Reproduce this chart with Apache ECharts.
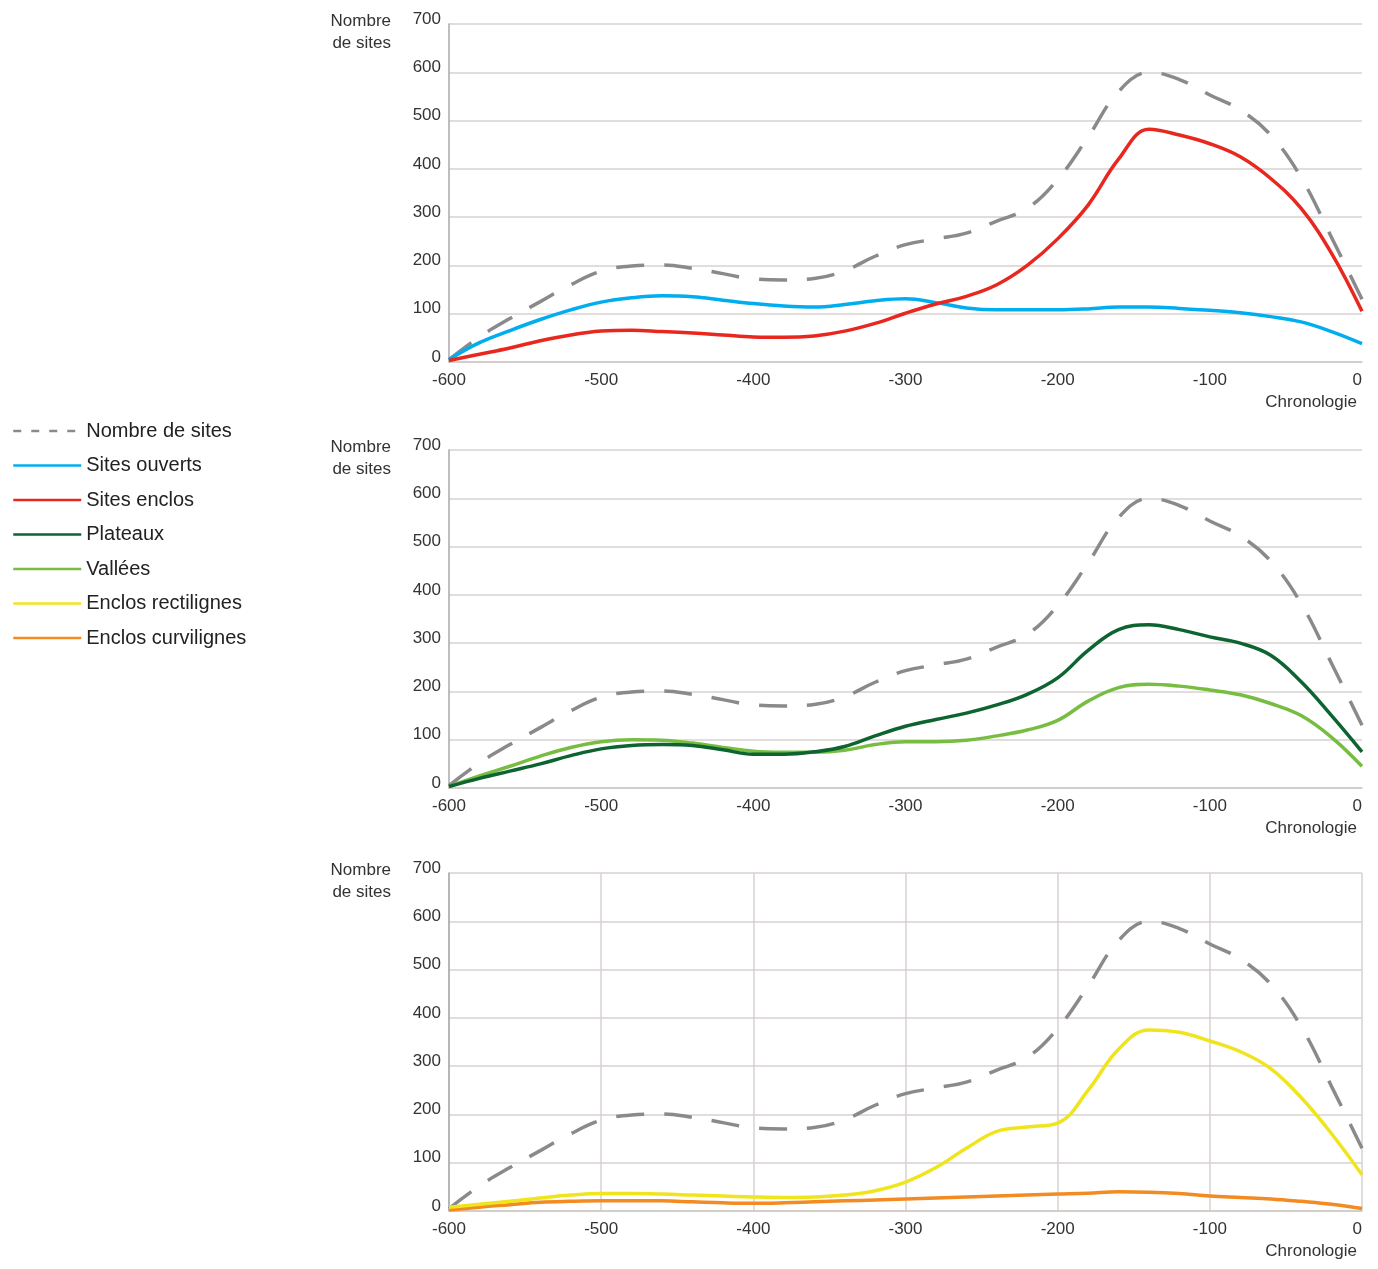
<!DOCTYPE html>
<html lang="fr">
<head>
    <meta charset="UTF-8">
    <title>Nombre de sites - chronologie</title>
    <script src="https://cdn.jsdelivr.net/npm/echarts@6/dist/echarts.min.js"></script>
    <style>
        html, body { margin: 0; padding: 0; background: #fff; }
        #chart { width: 1378px; height: 1269px; }
    </style>
</head>
<body>
    <div id="chart"></div>
    <script>
        // chronologie (années)
        var years = [-600, -580, -560, -540, -520, -500, -480, -460, -440, -420, -400,
                     -380, -360, -340, -320, -300, -280, -260, -240, -220, -200,
                     -180, -160, -140, -120, -100, -80, -60, -40, -20, 0];

        var nombreSites = [5, 52, 90, 125, 160, 188, 199, 201, 194, 183, 172,
                           170, 173, 189, 219, 243, 255, 267, 292, 318, 378,
                           466, 560, 600, 585, 553, 522, 470, 382, 258, 130];
        var sitesOuverts = [5, 40, 65, 88, 108, 124, 133, 137, 135, 128, 121,
                            116, 114, 119, 127, 131, 123, 112, 108, 108, 108,
                            110, 114, 114, 111, 107, 102, 94, 83, 63, 38];
        var sitesEnclos = [3, 16, 29, 44, 56, 64, 66, 63, 60, 56, 52,
                           51, 54, 64, 80, 101, 120, 136, 160, 200, 255,
                           325, 420, 482, 470, 452, 425, 380, 318, 225, 105];
        var plateaux = [3, 20, 35, 50, 67, 81, 88, 90, 88, 79, 70,
                        70, 75, 86, 108, 128, 142, 155, 172, 194, 228,
                        285, 328, 338, 328, 313, 300, 275, 220, 150, 75];
        var vallees = [3, 25, 45, 66, 84, 96, 100, 99, 93, 84, 76,
                       74, 74, 78, 90, 96, 96, 99, 108, 120, 140,
                       180, 208, 215, 211, 203, 193, 175, 150, 105, 45];
        var enclosRectilignes = [8, 14, 20, 27, 33, 36, 36, 35, 33, 31, 29,
                                 28, 29, 33, 42, 60, 90, 130, 165, 174, 182,
                                 250, 335, 375, 370, 352, 330, 295, 235, 160, 75];
        var enclosCurvilignes = [2, 8, 13, 18, 20, 21, 21, 21, 19, 17, 16,
                                 17, 19, 21, 23, 25, 27, 29, 31, 33, 35,
                                 37, 40, 39, 36, 31, 28, 25, 20, 14, 5];

        var legendNames = ['Nombre de sites', 'Sites ouverts', 'Sites enclos', 'Plateaux',
                           'Vallées', 'Enclos rectilignes', 'Enclos curvilignes'];

        var colors = {
            'Nombre de sites': '#8a8a8c',
            'Sites ouverts': '#00aeef',
            'Sites enclos': '#e8271f',
            'Plateaux': '#0d6430',
            'Vallées': '#77bd42',
            'Enclos rectilignes': '#f0e41c',
            'Enclos curvilignes': '#f28c22'
        };

        var font = 'Liberation Sans, Arial, Helvetica, sans-serif';

        function pairs(vals) {
            return years.map(function (y, i) { return [y, vals[i]]; });
        }

        var gridTops = [24, 450, 873];
        var grids = gridTops.map(function (t) {
            return { left: 449, right: 16, top: t, height: 338, outerBoundsMode: 'none' };
        });

        var xAxes = gridTops.map(function (t, i) {
            return {
                type: 'value',
                gridIndex: i,
                min: -600,
                max: 0,
                interval: 100,
                name: 'Chronologie',
                nameLocation: 'end',
                nameGap: -5,
                nameMoveOverlap: false,
                nameTextStyle: {
                    fontFamily: font, fontSize: 17, color: '#333',
                    align: 'right', verticalAlign: 'top', padding: [32, 0, 0, 0]
                },
                axisLine: { show: true, onZero: false, lineStyle: { color: '#cfc9c6', width: 1.5 } },
                axisTick: { show: false },
                axisLabel: {
                    fontFamily: font, fontSize: 17, color: '#333', margin: 10,
                    alignMaxLabel: 'right'
                },
                splitLine: { show: i === 2, lineStyle: { color: '#d6d2d0', width: 1.5 } }
            };
        });

        var yAxes = gridTops.map(function (t, i) {
            return {
                type: 'value',
                gridIndex: i,
                position: 'left',
                min: 0,
                max: 700,
                interval: 100,
                name: 'Nombre\nde sites',
                nameLocation: 'end',
                nameGap: 14,
                nameMoveOverlap: false,
                nameTextStyle: {
                    fontFamily: font, fontSize: 17, color: '#333', lineHeight: 22,
                    align: 'right', verticalAlign: 'top', padding: [0, 58, 0, 0]
                },
                axisLine: { show: true, onZero: false, lineStyle: { color: '#a8a8a8', width: 1.5 } },
                axisTick: { show: false },
                axisLabel: {
                    fontFamily: font, fontSize: 17, color: '#333', margin: 8,
                    verticalAlign: 'bottom', lineHeight: 10
                },
                splitLine: { show: true, lineStyle: { color: '#d8d2cf', width: 1.5 } }
            };
        });

        function lineSeries(name, vals, idx) {
            var dashed = name === 'Nombre de sites';
            return {
                name: name,
                type: 'line',
                xAxisIndex: idx,
                yAxisIndex: idx,
                data: pairs(vals),
                smooth: 0.4,
                symbol: 'none',
                silent: true,
                z: dashed ? 2 : 3,
                lineStyle: {
                    color: colors[name],
                    width: 3.5,
                    type: dashed ? [28, 20] : 'solid',
                    cap: 'butt'
                },
                itemStyle: { color: colors[name] }
            };
        }

        var series = [
            lineSeries('Nombre de sites', nombreSites, 0),
            lineSeries('Sites ouverts', sitesOuverts, 0),
            lineSeries('Sites enclos', sitesEnclos, 0),
            lineSeries('Nombre de sites', nombreSites, 1),
            lineSeries('Vallées', vallees, 1),
            lineSeries('Plateaux', plateaux, 1),
            lineSeries('Nombre de sites', nombreSites, 2),
            lineSeries('Enclos curvilignes', enclosCurvilignes, 2),
            lineSeries('Enclos rectilignes', enclosRectilignes, 2)
        ];

        var chart = echarts.init(document.getElementById('chart'), null, { renderer: 'canvas' });

        chart.setOption({
            backgroundColor: '#ffffff',
            animation: false,
            legend: {
                orient: 'vertical',
                left: 7,
                top: 416,
                itemWidth: 68,
                itemHeight: 14,
                itemGap: 14.5,
                selectedMode: false,
                textStyle: { fontFamily: font, fontSize: 20, color: '#222', lineHeight: 20 },
                itemStyle: { opacity: 0 },
                lineStyle: { width: 2.5 },
                data: legendNames.map(function (n) {
                    var item = { name: n };
                    if (n === 'Nombre de sites') {
                        item.lineStyle = { type: [8, 10], width: 2.5 };
                    }
                    return item;
                })
            },
            grid: grids,
            xAxis: xAxes,
            yAxis: yAxes,
            series: series
        });
    </script>
</body>
</html>
